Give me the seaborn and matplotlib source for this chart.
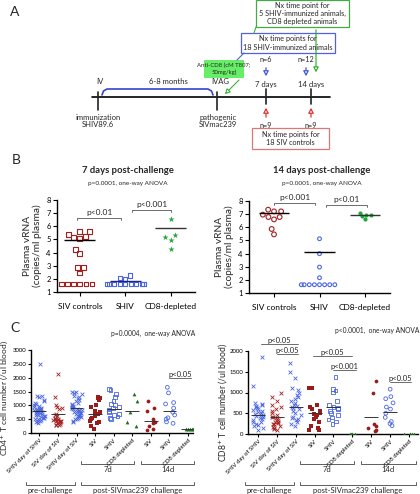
import numpy as np
import pandas as pd
import matplotlib
matplotlib.use("Agg")
import matplotlib.pyplot as plt
import seaborn as sns
from matplotlib.patches import Rectangle, FancyArrowPatch
from matplotlib.transforms import blended_transform_factory

sns.set_theme(style="ticks")
plt.rcParams["font.family"] = ["Lato", "DejaVu Sans"]
np.random.seed(3)

# ---------------- data ----------------
b_groups = ["SIV controls", "SHIV", "CD8-depleted"]
b7_siv = [5.58, 5.58, 5.15, 5.07, 5.25, 5.4, 4.23, 3.93, 2.86, 2.86, 2.45,
          1.6, 1.6, 1.6, 1.6, 1.6, 1.6]
b7_shiv = [2.07, 2.02, 2.25, 1.6, 1.6, 1.6, 1.6, 1.6, 1.6, 1.6, 1.6, 1.6]
b7_cd8 = [6.52, 5.18, 5.33, 4.95, 4.3]
b7_lines = [4.97, 1.83, 5.9]
b14_siv = [7.21, 7.21, 7.34, 6.78, 6.6, 6.78, 6.96, 5.87, 5.46]
b14_shiv = [5.13, 3.99, 2.97, 2.16, 1.63, 1.63, 1.63, 1.63, 1.63, 1.63, 1.63, 1.63]
b14_cd8 = [6.91, 7.1, 6.6, 6.83, 6.91]
b14_lines = [7.05, 4.14, 6.93]

c_labels = ["SHIV day of SHIV", "SIV day of SIV", "SHIV day of SIV", "SIV", "SHIV",
            "CD8 depleted", "SIV", "SHIV", "CD8 depleted"]
cd4_values = [
    [2500, 1330, 1330, 1300, 1200, 1150, 1100, 1050, 1000, 980, 950, 920, 900, 880,
     860, 850, 830, 820, 800, 790, 780, 760, 750, 740, 720, 700, 680, 660, 640, 620,
     600, 580, 560, 540, 520, 500, 480, 450, 420, 400, 350],
    [2150, 1300, 1000, 950, 900, 850, 700, 650, 600, 550, 520, 500, 480, 460, 450,
     440, 420, 400, 380, 350, 320, 300, 300, 300],
    [1500, 1500, 1450, 1400, 1350, 1300, 1250, 1200, 1150, 1100, 1050, 1000, 980,
     950, 920, 900, 880, 860, 840, 820, 800, 780, 760, 740, 720, 700, 680, 650, 620,
     600, 580, 550, 520, 500, 450, 400],
    [1300, 1250, 1250, 1200, 1000, 950, 800, 750, 700, 650, 600, 550, 500, 450, 400,
     350, 250, 150],
    [1600, 1550, 1400, 1300, 1150, 1050, 1000, 950, 900, 850, 800, 750, 700, 650,
     600, 550, 500],
    [1400, 1150, 750, 400, 250],
    [1150, 900, 800, 500, 400, 350, 250, 150, 100],
    [1650, 1450, 1100, 1050, 900, 750, 650, 550, 500, 400, 350],
    [150, 150, 150, 150, 150],
]
cd4_lines = [800, 680, 900, 700, 880, 780, 450, 780, 150]
cd8_values = [
    [1850, 1150, 750, 720, 700, 680, 650, 620, 600, 580, 550, 530, 500, 480, 460,
     450, 430, 400, 380, 350, 330, 300, 280, 250, 220, 200, 150, 100],
    [1000, 880, 800, 700, 650, 600, 550, 500, 450, 420, 400, 380, 350, 330, 300, 280,
     260, 250, 230, 200, 180, 150, 120, 100],
    [1700, 1500, 1350, 1100, 1050, 1000, 950, 900, 850, 800, 750, 700, 680, 650, 620,
     600, 550, 500, 450, 400, 380, 350, 330, 300, 250, 200],
    [1100, 1100, 700, 650, 600, 550, 500, 480, 450, 400, 350, 300, 200, 150, 100, 100],
    [1380, 1080, 1050, 1000, 800, 700, 650, 620, 600, 550, 500, 450, 400, 350, 300, 250],
    [0, 0, 0, 0, 0],
    [1280, 1000, 250, 200, 150, 100, 80],
    [1080, 900, 850, 750, 650, 600, 500, 400, 300, 250, 200],
    [0, 0, 0, 0, 0],
]
cd8_lines = [460, 400, 660, 510, 640, 0, 420, 540, 0]

RED = "#a32020"
BLUE = "#4a66e0"
GREEN = "#22a83a"
DGREEN = "#1f6e1f"

# ---------------- figure ----------------
W, H = 420, 494
fig = plt.figure(figsize=(W / 100, H / 100), dpi=100)


def rect(l, t, r, b):
    return [l / W, 1 - b / H, (r - l) / W, (b - t) / H]


ov = fig.add_axes([0, 0, 1, 1], zorder=-1)
ov.set_xlim(0, W)
ov.set_ylim(H, 0)
ov.axis("off")


def marker_kw(marker, color, filled, lw):
    if marker in ("x", "+"):
        return dict(linewidth=lw)
    if filled:
        return dict(linewidth=0)
    return dict(facecolors="none", edgecolor=color, linewidth=lw)


def swarm(ax, values, cat, order, marker, color, size, filled=True, lw=0.8):
    df = pd.DataFrame({"g": [cat] * len(values), "v": values})
    sns.swarmplot(data=df, x="g", y="v", order=order, marker=marker, color=color,
                  size=size, ax=ax, **marker_kw(marker, color, filled, lw))


def strip(ax, values, cat, order, marker, color, size, filled=True, lw=0.8):
    df = pd.DataFrame({"g": [cat] * len(values), "v": values})
    sns.stripplot(data=df, x="g", y="v", order=order, marker=marker, color=color,
                  size=size, jitter=0.3, ax=ax, **marker_kw(marker, color, filled, lw))


def style_axis(ax, fs=5.5):
    sns.despine(ax=ax)
    for s in ("left", "bottom"):
        ax.spines[s].set_linewidth(1.0)
        ax.spines[s].set_color("black")
    ax.tick_params(axis="both", length=3, width=0.8, labelsize=fs, pad=1.5,
                   colors="black")
    ax.set_xlabel("")


def pbracket(ax, x1, x2, y, txt, drop, fs=5.5, color="#555555"):
    ax.plot([x1, x1, x2, x2], [y - drop, y, y, y - drop], color=color, lw=0.6,
            clip_on=False)
    ax.text((x1 + x2) / 2, y + drop * 0.6, txt, ha="center", va="bottom",
            fontsize=fs, clip_on=False)


# ---------------- Panel A ----------------
ov.text(10, 12, "A", fontsize=10, va="center")
ov.plot([92, 330], [97, 97], color="black", lw=1.2)
for xp, (t0, t1) in zip([98, 217, 266, 311], [(92, 110), (92, 110), (89, 104), (89, 104)]):
    ov.plot([xp, xp], [t0, t1], color="#222222", lw=1.2)
ov.text(96, 81, "IV", fontsize=5.5, ha="left", va="center")
ov.text(168, 81, "6-8 months", fontsize=5.5, ha="center", va="center")
ov.text(211, 81, "IVAG", fontsize=5.5, ha="left", va="center")
ov.text(266, 85, "7 days", fontsize=5.5, ha="center", va="center")
ov.text(311, 85, "14 days", fontsize=5.5, ha="center", va="center")
ov.text(98, 121, "immunization\nSHIV89.6", fontsize=5.5, ha="center", va="center",
        linespacing=1.1)
ov.text(218, 121, "pathogenic\nSIVmac239", fontsize=5.5, ha="center", va="center",
        linespacing=1.1)
ov.plot([102, 103.5, 107, 208, 211.5, 213], [95, 91, 89, 89, 91, 95], color="#3344cc",
        lw=1.2, solid_capstyle="round")
# anti-CD8 box
ov.add_patch(Rectangle((204, 60), 40, 18, facecolor="#66ee66", edgecolor="none"))
ov.text(224, 69, "Anti-CD8 (cM T807;\n50mg/kg)", fontsize=4.3, ha="center",
        va="center", linespacing=1.2)
ov.add_patch(FancyArrowPatch((241, 78), (223, 96), arrowstyle="-|>,head_length=3,head_width=1.6",
                             color="#22aa22", lw=0.7, fc="white"))
# blue box
ov.add_patch(Rectangle((241, 33), 94, 20, facecolor="white", edgecolor="#5060e0", lw=0.9))
ov.text(288, 43, "Nx time points for\n18 SHIV-immunized animals", fontsize=5.2,
        ha="center", va="center", linespacing=1.2)
ov.plot([244, 237], [53, 60], color="#5060e0", lw=0.8)
# green box
ov.add_patch(Rectangle((256, 0), 93, 27, facecolor="white", edgecolor="#44aa44", lw=0.9))
ov.text(302, 13.5, "Nx time point for\n5 SHIV-immunized animals,\nCD8 depleted animals",
        fontsize=5.2, ha="center", va="center", linespacing=1.2)
ov.plot([256, 254], [27, 33], color="#44aa44", lw=0.8)
ov.add_patch(FancyArrowPatch((316, 27), (316, 75), arrowstyle="-|>,head_length=3,head_width=1.6",
                             color="#22aa22", lw=0.8, fc="white"))
# blue arrows
ov.text(266, 60, "n=6", fontsize=5.2, ha="center", va="center")
ov.text(306, 60, "n=12", fontsize=5.2, ha="center", va="center")
for xp in (266, 306):
    ov.add_patch(FancyArrowPatch((xp, 65), (xp, 79), arrowstyle="-|>,head_length=3,head_width=1.6",
                                 color="#4455dd", lw=0.9, fc="white"))
# red arrows
for xp in (266, 311):
    ov.add_patch(FancyArrowPatch((xp, 120), (xp, 105), arrowstyle="-|>,head_length=3,head_width=1.6",
                                 color="#dd3333", lw=0.9, fc="white"))
    ov.text(xp, 125, "n=9", fontsize=5.2, ha="center", va="center")
ov.add_patch(Rectangle((252, 128), 77, 21, facecolor="white", edgecolor="#dd7777", lw=0.9))
ov.text(290.5, 138.5, "Nx time points for\n18 SIV controls", fontsize=5.2, ha="center",
        va="center", linespacing=1.2)

# ---------------- Panel B ----------------
ov.text(12, 160, "B", fontsize=10, va="center")
for cx, title in ((128, "7 days post-challenge"), (322, "14 days post-challenge")):
    ov.text(cx, 170, title, fontsize=6.8, fontweight="bold", ha="center", va="center")
    ov.text(cx, 183, "p=0.0001, one-way ANOVA", fontsize=4.6, ha="center", va="center")

axb7 = fig.add_axes(rect(57, 200, 195, 292))
swarm(axb7, b7_siv, b_groups[0], b_groups, "s", RED, 3.4, filled=False, lw=0.8)
swarm(axb7, b7_shiv, b_groups[1], b_groups, "s", BLUE, 3.0, filled=False, lw=0.8)
swarm(axb7, b7_cd8, b_groups[2], b_groups, "*", GREEN, 4.6, filled=True)
axb7.hlines(b7_lines, np.arange(3) - 0.34, np.arange(3) + 0.34,
            colors=["black", "#1a237e", "#333333"], lw=1.0, zorder=5)

axb14 = fig.add_axes(rect(249, 201, 390, 293))
swarm(axb14, b14_siv, b_groups[0], b_groups, "o", RED, 3.4, filled=False, lw=0.8)
swarm(axb14, b14_shiv, b_groups[1], b_groups, "o", BLUE, 2.7, filled=False, lw=0.8)
swarm(axb14, b14_cd8, b_groups[2], b_groups, "o", GREEN, 3.0, filled=True)
axb14.hlines(b14_lines, np.arange(3) - 0.34, np.arange(3) + 0.34,
             colors=["black", "black", "#333333"], lw=1.0, zorder=5)

for ax, xl in ((axb7, (-0.5, 2.53)), (axb14, (-0.55, 2.55))):
    ax.set_ylim(1, 8)
    ax.set_yticks(range(1, 9))
    ax.set_xlim(*xl)
    style_axis(ax, fs=5.5)
    ax.set_xticks(range(3))
    ax.set_xticklabels(b_groups, fontsize=6)
    ax.tick_params(axis="x", pad=5)
    ax.set_ylabel("Plasma vRNA\n(copies/ml plasma)", fontsize=7.3, labelpad=3,
                  linespacing=1.1)

pbracket(axb7, -0.05, 0.9, 6.65, "p<0.01", 0.2, fs=6)
pbracket(axb7, 1.15, 2.0, 7.25, "p<0.001", 0.2, fs=6)
pbracket(axb14, 0.0, 0.9, 7.87, "p<0.001", 0.2, fs=6)
pbracket(axb14, 1.15, 2.05, 7.72, "p<0.01", 0.2, fs=6)

# ---------------- Panel C ----------------
ov.text(10, 328, "C", fontsize=10, va="center")
c_cats = [f"g{i}" for i in range(9)]
c_styles = [("x", BLUE, True), ("x", RED, True), ("x", BLUE, True),
            ("s", "#9b1b1b", True), ("s", BLUE, False), ("^", DGREEN, True),
            ("o", "#9b1b1b", True), ("o", BLUE, False), ("^", DGREEN, True)]

axc4 = fig.add_axes(rect(31, 350, 193, 433))
axc8 = fig.add_axes(rect(248, 351, 418, 434))
for ax, vals, lines in ((axc4, cd4_values, cd4_lines), (axc8, cd8_values, cd8_lines)):
    for i, (m, col, filled) in enumerate(c_styles):
        strip(ax, vals[i], c_cats[i], c_cats, m, col, 2.7, filled=filled, lw=0.6)
    ax.hlines(lines, np.arange(9) - 0.37, np.arange(9) + 0.37, colors="#333333",
              lw=0.7, zorder=5)

axc4.set_ylim(0, 3000)
axc4.set_yticks(range(0, 3001, 500))
axc4.set_xlim(-0.45, 8.27)
axc8.set_ylim(0, 2000)
axc8.set_yticks(range(0, 2001, 500))
axc8.set_xlim(-0.53, 8.48)
for ax in (axc4, axc8):
    style_axis(ax, fs=4.3)
    ax.tick_params(axis="both", length=2.5, pad=1)
    ax.set_xticks(range(9))
    ax.set_xticklabels(c_labels, rotation=45, ha="right", rotation_mode="anchor",
                       fontsize=4.3)
    ax.set_ylabel("")

ov.text(4.5, 398, "CD4$^{+}$ T cell number (/ul blood)", fontsize=6.0, rotation=90,
        ha="center", va="center")
ov.text(223, 402, "CD8$^{+}$ T cell number (/ul blood)", fontsize=6.2, rotation=90,
        ha="center", va="center")

ov.text(195, 333, "p=0.0004,  one-way ANOVA", fontsize=4.8, ha="right", va="center")
ov.text(419, 330, "p<0.0001,  one-way ANOVA", fontsize=4.8, ha="right", va="center")

pbracket(axc4, 7.0, 8.15, 1980, "p<0.05", 0, fs=5.5)
pbracket(axc8, 0.15, 2.1, 2170, "p<0.05", 0, fs=5.5)
pbracket(axc8, 1.0, 2.1, 1920, "p<0.05", 0, fs=5.5)
pbracket(axc8, 2.9, 5.0, 1870, "p<0.05", 0, fs=5.5)
pbracket(axc8, 4.0, 5.2, 1550, "p<0.001", 0, fs=5.5)
pbracket(axc8, 7.0, 8.1, 1260, "p<0.05", 0, fs=5.5)

# group brackets under panel C
for ax in (axc4, axc8):
    tr = blended_transform_factory(ax.transData, ov.transData)
    for (x1, x2, y, txt) in ((2.25, 5.1, 464, "7d"), (5.45, 8.35, 464, "14d"),
                             (-0.7, 1.9, 485, "pre-challenge"),
                             (2.25, 8.35, 485, "post-SIVmac239 challenge")):
        ov.plot([x1, x1, x2, x2], [y - 3, y, y, y - 3], color="#444444", lw=0.6,
                transform=tr, clip_on=False)
        ov.text((x1 + x2) / 2, y + 5.5, txt, fontsize=5.5, ha="center", va="center",
                transform=tr, clip_on=False)

fig.savefig("out.png", dpi=100)
